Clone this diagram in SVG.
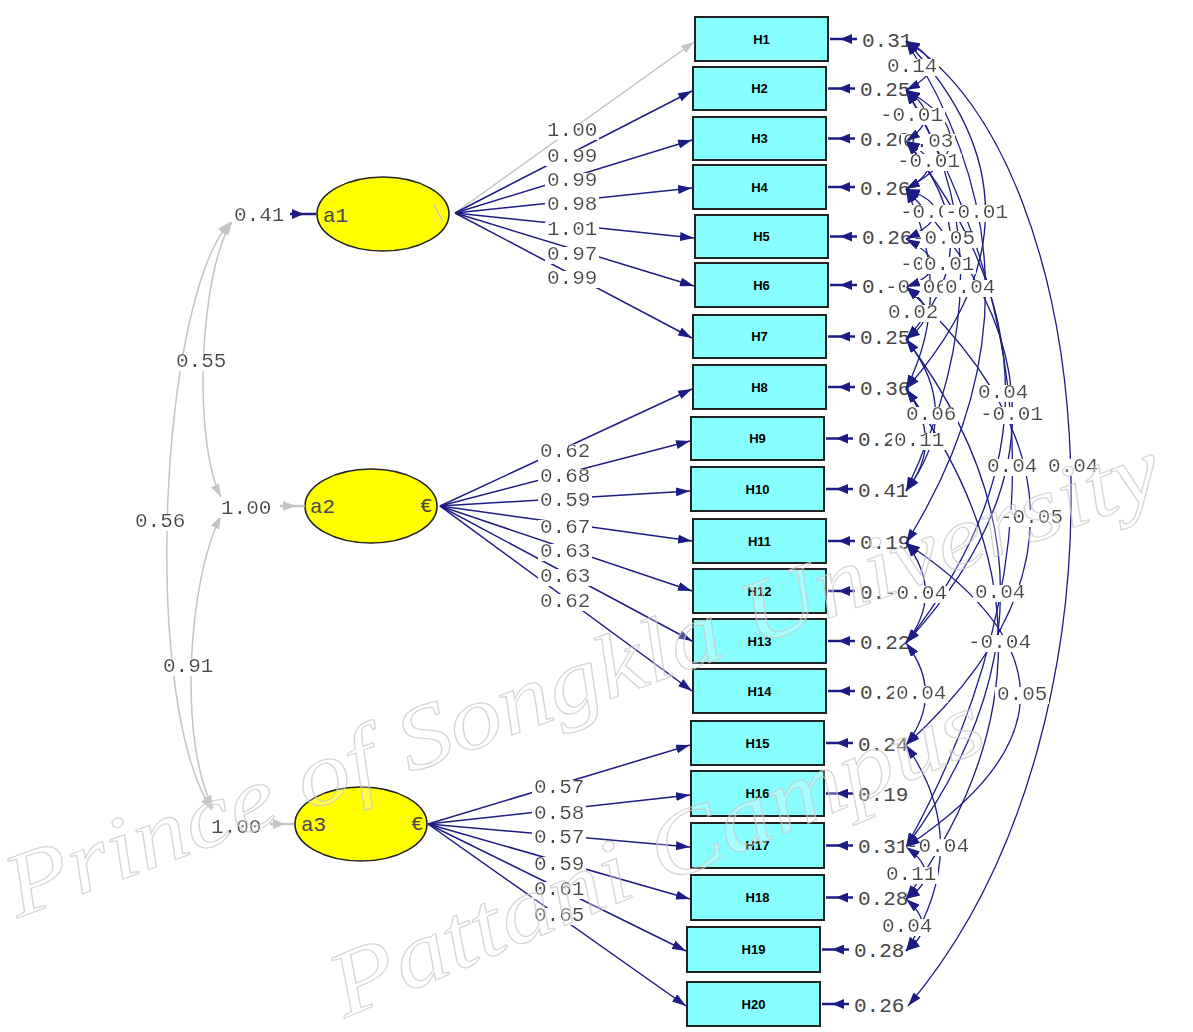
<svg xmlns="http://www.w3.org/2000/svg" xmlns:xlink="http://www.w3.org/1999/xlink" width="1193" height="1032" viewBox="0 0 1193 1032">
<style>
.box{fill:#88ffff;stroke:#222;stroke-width:2}
.bl{font-family:'Liberation Sans',Arial,sans-serif;font-weight:bold;font-size:13px;text-anchor:middle;fill:#000}
.num{font-family:'Liberation Mono','Courier New',monospace;font-size:21px;fill:#474747}
.bg{filter:url(#bg)}
.lat{fill:#ffff00;stroke:#222;stroke-width:1.6}
.ld{stroke:#1c1c84;stroke-width:1.5;fill:none;marker-end:url(#ah)}
.ldg{stroke:#c4c4c4;stroke-width:1.5;fill:none;marker-end:url(#ahg)}
.cv{stroke:#1c1c84;stroke-width:1.3;fill:none}
.hd{stroke:none;fill:none;marker-start:url(#ah);marker-end:url(#ah)}
.er{stroke:#1c1c84;stroke-width:2.5;fill:none;marker-mid:url(#eh)}
.erg{stroke:#c4c4c4;stroke-width:2.5;fill:none;marker-mid:url(#ehg)}
.gr{stroke:#c4c4c4;stroke-width:1.5;fill:none;marker-start:url(#ahg);marker-end:url(#ahg)}
</style>
<defs>
<filter id="bg" x="-0.02" y="0.18" width="1.04" height="0.72"><feFlood flood-color="#ffffff"/><feComposite in="SourceGraphic"/></filter>
<marker id="ah" viewBox="0 0 14 9" refX="14" refY="4.5" markerWidth="14" markerHeight="9" markerUnits="userSpaceOnUse" orient="auto-start-reverse"><path d="M0,0 L14,4.5 L0,9 z" fill="#1c1c84"/></marker>
<marker id="ahg" viewBox="0 0 13 9" refX="13" refY="4.5" markerWidth="13" markerHeight="9" markerUnits="userSpaceOnUse" orient="auto-start-reverse"><path d="M0,0 L13,4.5 L0,9 z" fill="#c4c4c4"/></marker>
<marker id="eh" viewBox="0 0 12 10" refX="0" refY="5" markerWidth="12" markerHeight="10" markerUnits="userSpaceOnUse" orient="auto"><path d="M0,0 L12,5 L0,10 z" fill="#1c1c84"/></marker>
<marker id="ehg" viewBox="0 0 12 10" refX="0" refY="5" markerWidth="12" markerHeight="10" markerUnits="userSpaceOnUse" orient="auto"><path d="M0,0 L12,5 L0,10 z" fill="#c4c4c4"/></marker>
<path id="c1" d="M906,41 Q955,66 906,90"/>
<path id="c2" d="M906,90 Q945,116 906,141"/>
<path id="c3" d="M906,90 Q995,140 906,189"/>
<path id="c4" d="M906,141 Q951,165 906,189"/>
<path id="c5" d="M906,189 Q965,210 906,239"/>
<path id="c6" d="M906,41 Q1065,209 906,389"/>
<path id="c7" d="M906,141 Q995,244 906,339"/>
<path id="c8" d="M906,239 Q959,267 906,287"/>
<path id="c9" d="M906,90 Q1015,260 906,491"/>
<path id="c10" d="M906,189 Q955,291 906,389"/>
<path id="c11" d="M906,41 Q1065,288 906,543"/>
<path id="c12" d="M906,287 Q945,313 906,339"/>
<path id="c13" d="M906,141 Q1105,392 906,643"/>
<path id="c14" d="M906,339 Q965,413 906,491"/>
<path id="c15" d="M906,189 Q1119,412 906,643"/>
<path id="c16" d="M906,389 Q945,442 906,491"/>
<path id="c17" d="M906,90 Q1119,464 906,847"/>
<path id="c18" d="M906,41 C1100,160 1150,720 908,1006"/>
<path id="c19" d="M906,287 Q1155,518 906,745"/>
<path id="c20" d="M906,543 Q945,593 906,643"/>
<path id="c21" d="M906,339 Q1095,591 906,847"/>
<path id="c22" d="M906,389 Q1091,644 906,899"/>
<path id="c23" d="M906,643 Q945,694 906,745"/>
<path id="c24" d="M906,543 Q1135,695 906,847"/>
<path id="c25" d="M906,745 Q975,844 906,951"/>
<path id="c26" d="M906,847 Q945,875 906,899"/>
<path id="c27" d="M906,899 Q939,927 906,951"/>
</defs>
<rect width="1193" height="1032" fill="#ffffff"/>

<g id="latent-a1"><ellipse class="lat" cx="383" cy="214" rx="66" ry="37"/><line x1="434" y1="205" x2="443" y2="222" stroke="#c4c4c4" stroke-width="1.2"/><text class="num" x="323" y="222" fill="#4a4a2a">a1</text></g>
<g id="latent-a2"><ellipse class="lat" cx="371" cy="506" rx="66" ry="37"/><text class="num" x="310" y="513" fill="#4a4a2a">a2</text><text class="num" x="420" y="512" fill="#333">€</text></g>
<g id="latent-a3"><ellipse class="lat" cx="361" cy="824" rx="66" ry="37"/><text class="num" x="301" y="831" fill="#4a4a2a">a3</text><text class="num" x="411" y="830" fill="#333">€</text></g>

<g id="H1"><rect class="box" x="695" y="17" width="133" height="44"/><text class="bl" x="761.5" y="44">H1</text></g>
<g id="H2"><rect class="box" x="693" y="67" width="133" height="43"/><text class="bl" x="759.5" y="93">H2</text></g>
<g id="H3"><rect class="box" x="693" y="117" width="133" height="43"/><text class="bl" x="759.5" y="143">H3</text></g>
<g id="H4"><rect class="box" x="693" y="165" width="133" height="44"/><text class="bl" x="759.5" y="192">H4</text></g>
<g id="H5"><rect class="box" x="695" y="215" width="133" height="43"/><text class="bl" x="761.5" y="241">H5</text></g>
<g id="H6"><rect class="box" x="695" y="263" width="133" height="44"/><text class="bl" x="761.5" y="290">H6</text></g>
<g id="H7"><rect class="box" x="693" y="315" width="133" height="43"/><text class="bl" x="759.5" y="341">H7</text></g>
<g id="H8"><rect class="box" x="693" y="365" width="133" height="44"/><text class="bl" x="759.5" y="392">H8</text></g>
<g id="H9"><rect class="box" x="691" y="417" width="133" height="43"/><text class="bl" x="757.5" y="443">H9</text></g>
<g id="H10"><rect class="box" x="691" y="467" width="133" height="44"/><text class="bl" x="757.5" y="494">H10</text></g>
<g id="H11"><rect class="box" x="693" y="519" width="133" height="44"/><text class="bl" x="759.5" y="546">H11</text></g>
<g id="H12"><rect class="box" x="693" y="569" width="133" height="44"/><text class="bl" x="759.5" y="596">H12</text></g>
<g id="H13"><rect class="box" x="693" y="619" width="133" height="44"/><text class="bl" x="759.5" y="646">H13</text></g>
<g id="H14"><rect class="box" x="693" y="669" width="133" height="44"/><text class="bl" x="759.5" y="696">H14</text></g>
<g id="H15"><rect class="box" x="691" y="721" width="133" height="44"/><text class="bl" x="757.5" y="748">H15</text></g>
<g id="H16"><rect class="box" x="691" y="771" width="133" height="45"/><text class="bl" x="757.5" y="798">H16</text></g>
<g id="H17"><rect class="box" x="691" y="823" width="133" height="45"/><text class="bl" x="757.5" y="850">H17</text></g>
<g id="H18"><rect class="box" x="691" y="875" width="133" height="45"/><text class="bl" x="757.5" y="902">H18</text></g>
<g id="H19"><rect class="box" x="687" y="927" width="133" height="45"/><text class="bl" x="753.5" y="954">H19</text></g>
<g id="H20"><rect class="box" x="687" y="982" width="133" height="44"/><text class="bl" x="753.5" y="1009">H20</text></g>

<g id="error-values" class="num">
<text x="862" y="47">0.31</text><text x="860" y="96">0.25</text><text x="860" y="146">0.20</text><text x="860" y="195">0.26</text>
<text x="862" y="244">0.26</text><text x="862" y="293">0.26</text><text x="860" y="344">0.25</text><text x="860" y="395">0.36</text>
<text x="858" y="446">0.20</text><text x="858" y="497">0.41</text><text x="860" y="549">0.19</text><text x="860" y="599">0.18</text>
<text x="860" y="649">0.22</text><text x="860" y="699">0.20</text><text x="858" y="751">0.24</text><text x="858" y="801">0.19</text>
<text x="858" y="853">0.31</text><text x="858" y="905">0.28</text><text x="854" y="957">0.28</text><text x="854" y="1012">0.26</text>
</g>

<g id="connectors">
<path class="gr" d="M232,222 C200,270 192,440 221,497"/>
<path class="gr" d="M221,516 C188,580 178,740 213,808"/>
<path class="gr" d="M230,222 C160,300 140,700 212,810"/>
<path class="er" d="M290,214 L292,214 L316,214"/>
<path class="erg" d="M280,506 L283,506 L305,506"/>
<path class="erg" d="M270,824 L273,824 L294,824"/>
<path class="ldg" d="M455,213 L694,42"/>
<path class="ld" d="M455,213 L692,91"/>
<path class="ld" d="M455,213 L692,140"/>
<path class="ld" d="M455,213 L692,188"/>
<path class="ld" d="M455,213 L694,238"/>
<path class="ld" d="M455,213 L694,286"/>
<path class="ld" d="M455,213 L692,338"/>
<path class="ld" d="M440,506 L692,389"/>
<path class="ld" d="M440,506 L690,441"/>
<path class="ld" d="M440,506 L690,491"/>
<path class="ld" d="M440,506 L692,541"/>
<path class="ld" d="M440,506 L692,591"/>
<path class="ld" d="M440,506 L692,641"/>
<path class="ld" d="M440,506 L692,691"/>
<path class="ld" d="M428,824 L690,745"/>
<path class="ld" d="M428,824 L690,795"/>
<path class="ld" d="M428,824 L690,847"/>
<path class="ld" d="M428,824 L690,899"/>
<path class="ld" d="M428,824 L686,951"/>
<path class="ld" d="M428,824 L686,1006"/>
<path class="er" d="M857,39 L852,39 L830,39"/>
<path class="er" d="M855,88.5 L850,88.5 L828,88.5"/>
<path class="er" d="M855,138.5 L850,138.5 L828,138.5"/>
<path class="er" d="M855,187 L850,187 L828,187"/>
<path class="er" d="M857,236.5 L852,236.5 L830,236.5"/>
<path class="er" d="M857,285 L852,285 L830,285"/>
<path class="er" d="M855,336.5 L850,336.5 L828,336.5"/>
<path class="er" d="M855,387 L850,387 L828,387"/>
<path class="er" d="M853,438.5 L848,438.5 L826,438.5"/>
<path class="er" d="M853,489 L848,489 L826,489"/>
<path class="er" d="M855,541 L850,541 L828,541"/>
<path class="er" d="M855,591 L850,591 L828,591"/>
<path class="er" d="M855,641 L850,641 L828,641"/>
<path class="er" d="M855,691 L850,691 L828,691"/>
<path class="er" d="M853,743 L848,743 L826,743"/>
<path class="er" d="M853,793.5 L848,793.5 L826,793.5"/>
<path class="er" d="M853,845.5 L848,845.5 L826,845.5"/>
<path class="er" d="M853,897.5 L848,897.5 L826,897.5"/>
<path class="er" d="M849,949.5 L844,949.5 L822,949.5"/>
<path class="er" d="M849,1004 L844,1004 L822,1004"/>
<g class="cv">
<use href="#c1"/><use href="#c2"/><use href="#c3"/><use href="#c4"/><use href="#c5"/><use href="#c6"/><use href="#c7"/><use href="#c8"/><use href="#c9"/>
<use href="#c10"/><use href="#c11"/><use href="#c12"/><use href="#c13"/><use href="#c14"/><use href="#c15"/><use href="#c16"/><use href="#c17"/><use href="#c18"/>
<use href="#c19"/><use href="#c20"/><use href="#c21"/><use href="#c22"/><use href="#c23"/><use href="#c24"/><use href="#c25"/><use href="#c26"/><use href="#c27"/>
</g>
</g>

<g id="labels" class="num">
<text class="bg" x="234" y="221">0.41</text>
<text class="bg" x="221" y="514">1.00</text>
<text class="bg" x="211" y="833">1.00</text>
<text class="bg" x="176" y="367">0.55</text>
<text class="bg" x="135" y="527">0.56</text>
<text class="bg" x="163" y="672">0.91</text>
<text class="bg" x="547" y="136">1.00</text><text class="bg" x="547" y="162">0.99</text><text class="bg" x="547" y="186">0.99</text><text class="bg" x="547" y="210">0.98</text>
<text class="bg" x="547" y="235">1.01</text><text class="bg" x="547" y="260">0.97</text><text class="bg" x="547" y="284">0.99</text>
<text class="bg" x="540" y="457">0.62</text><text class="bg" x="540" y="482">0.68</text><text class="bg" x="540" y="506">0.59</text><text class="bg" x="540" y="533">0.67</text>
<text class="bg" x="540" y="557">0.63</text><text class="bg" x="540" y="582">0.63</text><text class="bg" x="540" y="607">0.62</text>
<text class="bg" x="534" y="793">0.57</text><text class="bg" x="534" y="819">0.58</text><text class="bg" x="534" y="843">0.57</text><text class="bg" x="534" y="870">0.59</text>
<text class="bg" x="534" y="895">0.61</text><text class="bg" x="534" y="921">0.65</text>
<text class="bg" x="887" y="72">0.14</text>
<text class="bg" x="880" y="121">-0.01</text>
<text class="bg" x="903" y="147">0.03</text>
<text class="bg" x="897" y="167">-0.01</text>
<text class="bg" x="900" y="218">-0.01</text>
<text class="bg" x="945" y="218">-0.01</text>
<text class="bg" x="912" y="244">-0.05</text>
<text class="bg" x="900" y="270">-0.01</text>
<text class="bg" x="924" y="270">0.01</text>
<text class="bg" x="885" y="293">-0.06</text>
<text class="bg" x="945" y="293">0.04</text>
<text class="bg" x="888" y="318">0.02</text>
<text class="bg" x="978" y="398">0.04</text>
<text class="bg" x="906" y="420">0.06</text>
<text class="bg" x="980" y="420">-0.01</text>
<text class="bg" x="894" y="446">0.11</text>
<text class="bg" x="987" y="472">0.04</text>
<text class="bg" x="1048" y="472">0.04</text>
<text class="bg" x="1000" y="523">-0.05</text>
<text class="bg" x="884" y="599">-0.04</text>
<text class="bg" x="975" y="598">0.04</text>
<text class="bg" x="968" y="648">-0.04</text>
<text class="bg" x="896" y="699">0.04</text>
<text class="bg" x="997" y="700">0.05</text>
<text class="bg" x="906" y="852">-0.04</text>
<text class="bg" x="886" y="880">0.11</text>
<text class="bg" x="882" y="932">0.04</text>
</g>

<g id="connector-heads" class="hd">
<use href="#c1"/><use href="#c2"/><use href="#c3"/><use href="#c4"/><use href="#c5"/><use href="#c6"/><use href="#c7"/><use href="#c8"/><use href="#c9"/>
<use href="#c10"/><use href="#c11"/><use href="#c12"/><use href="#c13"/><use href="#c14"/><use href="#c15"/><use href="#c16"/><use href="#c17"/><use href="#c18"/>
<use href="#c19"/><use href="#c20"/><use href="#c21"/><use href="#c22"/><use href="#c23"/><use href="#c24"/><use href="#c25"/><use href="#c26"/><use href="#c27"/>
</g>

<g id="watermark" font-family="'Liberation Serif', serif" font-style="italic" fill="#ffffff" fill-opacity="0.25" stroke="#c8c8c8" stroke-width="1.2" stroke-opacity="0.75">
<text transform="translate(18,918) rotate(-20.3)" font-size="90" textLength="1225" lengthAdjust="spacingAndGlyphs">Prince of Songkla University</text>
<text transform="translate(345,1018) rotate(-22.8)" font-size="92" textLength="700" lengthAdjust="spacingAndGlyphs">Pattani Campus</text>
</g>
</svg>
